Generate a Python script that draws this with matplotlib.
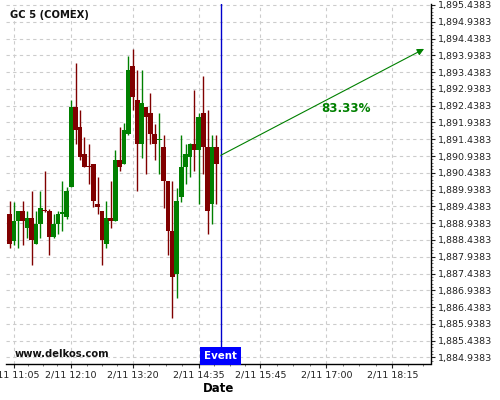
import matplotlib
matplotlib.use("Agg")
import matplotlib.pyplot as plt
import matplotlib.transforms as mtransforms
from matplotlib.ticker import FixedLocator, FuncFormatter
import numpy as np
import pandas as pd

# ---- data ----
title = "GC 5 (COMEX)"
start_time = "2024-02-11 11:00"
n_candles = 48
opens = [1889.216, 1888.412, 1889.008, 1889.305, 1888.809, 1889.097, 1888.303, 1888.928,
         1889.335, 1889.305, 1888.512, 1888.928, 1889.226, 1889.107, 1890.030, 1892.401,
         1891.805, 1891.002, 1890.635, 1890.704, 1889.514, 1889.295, 1888.303, 1889.097,
         1889.008, 1890.823, 1890.714, 1891.607, 1893.621, 1892.609, 1891.309, 1892.401,
         1892.222, 1891.607, 1891.418, 1891.210, 1890.198, 1888.710, 1887.421, 1889.732,
         1890.625, 1890.922, 1891.289, 1891.131, 1892.222, 1891.210, 1889.524, 1891.210]
highs = [1889.593, 1889.573, 1889.305, 1889.593, 1889.305, 1889.890, 1889.295, 1889.890,
         1890.486, 1889.375, 1889.206, 1889.305, 1890.188, 1890.020, 1892.599, 1893.700,
         1892.301, 1891.508, 1891.289, 1890.704, 1890.307, 1889.315, 1889.593, 1890.188,
         1891.111, 1891.795, 1891.924, 1893.918, 1894.117, 1893.492, 1893.492, 1892.401,
         1892.807, 1891.904, 1892.222, 1891.577, 1890.198, 1890.198, 1889.999, 1891.577,
         1891.289, 1891.320, 1892.897, 1892.222, 1893.313, 1892.301, 1891.577, 1891.577]
lows = [1888.194, 1888.293, 1888.194, 1888.283, 1888.482, 1887.688, 1888.303, 1888.482,
        1889.285, 1887.986, 1888.482, 1888.611, 1888.690, 1889.077, 1890.030, 1891.289,
        1890.813, 1890.625, 1890.099, 1889.405, 1889.206, 1887.688, 1888.194, 1888.789,
        1889.008, 1890.496, 1890.714, 1891.567, 1892.301, 1889.890, 1890.893, 1890.397,
        1891.289, 1890.813, 1890.397, 1889.394, 1887.996, 1886.111, 1886.706, 1889.583,
        1890.099, 1890.307, 1890.486, 1889.504, 1890.397, 1888.611, 1888.908, 1889.504]
closes = [1888.303, 1889.008, 1889.305, 1889.008, 1889.097, 1888.422, 1888.918, 1889.394,
          1889.305, 1888.512, 1888.918, 1889.216, 1889.246, 1889.901, 1892.401, 1891.726,
          1890.922, 1890.625, 1890.625, 1889.613, 1889.414, 1888.422, 1889.097, 1889.017,
          1890.823, 1890.625, 1891.716, 1893.502, 1892.708, 1891.309, 1892.520, 1892.113,
          1891.607, 1891.309, 1891.438, 1890.198, 1888.710, 1887.321, 1889.603, 1890.615,
          1891.002, 1891.289, 1891.131, 1892.103, 1891.210, 1889.315, 1891.210, 1890.714]

event_time = "2024-02-11 15:00"
arrow_start_price = 1890.96
arrow_end_time = "2024-02-11 18:51"
arrow_end_price = 1894.13
pct_label = "83.33%"
pct_time = "2024-02-11 17:22"
pct_price = 1892.35

xtick_labels = ["2/11 11:05", "2/11 12:10", "2/11 13:20", "2/11 14:35",
                "2/11 15:45", "2/11 17:00", "2/11 18:15"]
ytick_values = [1884.9383 + 0.5 * k for k in range(22)]

# ---- helpers ----
ref = pd.Timestamp("2024-02-11 11:05")
def to_min(ts):
    return (pd.Timestamp(ts) - ref).total_seconds() / 60.0

times = pd.date_range(start_time, periods=n_candles, freq="5min")
x = np.array([to_min(t) for t in times])
xtick_pos = [to_min("2024-02-11 " + s.split(" ")[1]) for s in xtick_labels]

GREEN = "#008000"
RED = "#800000"
BLUE = "#0000cc"

fig = plt.figure(figsize=(5, 4), dpi=100)
ax = fig.add_axes([0.012, 0.091, 0.849, 0.900])

ylo, yhi = 1884.754, 1895.48
ax.set_xlim(-9.1, 473.3)
ax.set_ylim(ylo, yhi)

# grid
ax.set_axisbelow(True)
ax.grid(True, color="#cccccc", linestyle=(0, (3, 3)), linewidth=0.8)

# candles
o = np.array(opens); c = np.array(closes); h = np.array(highs); l = np.array(lows)
up = c >= o
colors = np.where(up, GREEN, RED)
ax.vlines(x, l, h, colors=colors, linewidth=1.0, zorder=2)
body_bottom = np.minimum(o, c)
body_h = np.maximum(np.abs(c - o), 0.03)
ax.bar(x, body_h, bottom=body_bottom, width=5.3, color=colors, linewidth=0, zorder=3)

# event line and label
ex = to_min(event_time)
ax.axvline(ex, color=BLUE, linewidth=1.0, zorder=4)
trans = mtransforms.blended_transform_factory(ax.transData, ax.transAxes)
ax.text(ex, 0.021, "Event", transform=trans, ha="center", va="center",
        color="white", fontsize=7.4, fontweight="bold", zorder=6,
        bbox=dict(boxstyle="square,pad=0.4", facecolor="#0000ff", edgecolor="none"))

# arrow
ax.annotate("", xy=(to_min(arrow_end_time), arrow_end_price),
            xytext=(ex, arrow_start_price),
            arrowprops=dict(arrowstyle="-|>", color=GREEN, lw=0.8,
                            mutation_scale=10, shrinkA=0, shrinkB=0), zorder=5)
ax.text(to_min(pct_time), pct_price, pct_label, color=GREEN, fontsize=8.6,
        fontweight="bold", ha="center", va="center")

# texts
ax.text(0.01, 0.967, title, transform=ax.transAxes, fontsize=7.2,
        fontweight="bold", ha="left", va="center", color="#111111")
ax.text(0.021, 0.027, "www.delkos.com", transform=ax.transAxes, fontsize=7.2,
        fontweight="bold", ha="left", va="center", color="#111111")

# axes styling
for s in ["left", "top"]:
    ax.spines[s].set_visible(False)
for s in ["right", "bottom"]:
    ax.spines[s].set_linewidth(1.0)
    ax.spines[s].set_color("black")

ax.yaxis.tick_right()
ax.yaxis.set_major_locator(FixedLocator(ytick_values))
ax.yaxis.set_major_formatter(FuncFormatter(lambda v, p: f"{v:,.4f}"))
ax.yaxis.set_minor_locator(FixedLocator(np.arange(1884.9383 - 0.4, 1895.5, 0.1)))
ax.xaxis.set_major_locator(FixedLocator(xtick_pos))
ax.set_xticklabels(xtick_labels)
minor_x = []
for a, b in zip(xtick_pos[:-1], xtick_pos[1:]):
    minor_x += list(np.linspace(a, b, 5)[1:-1])
minor_x += list(np.linspace(xtick_pos[-1], xtick_pos[-1] + 70, 5)[1:4])
ax.xaxis.set_minor_locator(FixedLocator(minor_x))

ax.tick_params(axis="both", which="major", labelsize=6.8, length=3, width=0.8,
               pad=2, colors="#222222", labelcolor="#222222")
ax.tick_params(axis="both", which="minor", length=1.5, width=0.5, colors="#444444")
ax.tick_params(axis="y", which="both", left=False, right=True)
ax.set_xlabel("Date", fontsize=8.5, fontweight="bold", labelpad=2)

fig.savefig("out.png", dpi=100)
